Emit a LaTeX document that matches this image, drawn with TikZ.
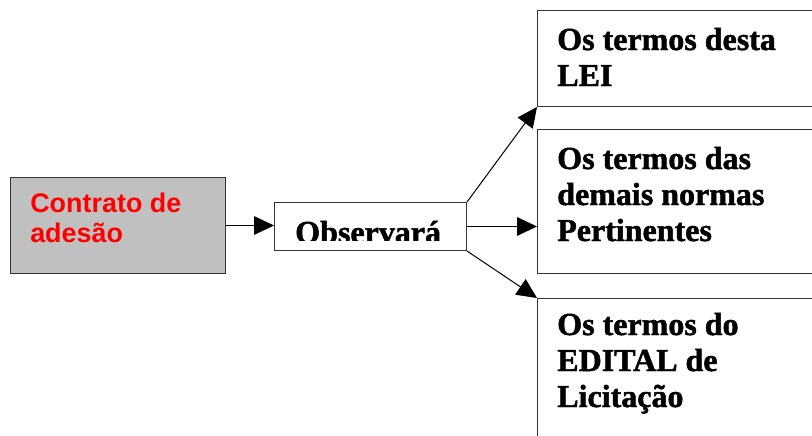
\documentclass[tikz,border=0pt]{standalone}
\usepackage{fontspec}
\setmainfont{Liberation Serif}
\setsansfont{Liberation Sans}
\newfontfamily\termofont[FakeBold=1.5]{Liberation Serif Bold}
\usetikzlibrary{arrows.meta}
\definecolor{boxgray}{RGB}{192,192,192}
\tikzset{
	box/.style={draw=black!80, line width=0.75pt, inner sep=0pt, anchor=north west},
	arr/.style={draw=black, line width=0.75pt, -{Triangle[length=15pt,width=14pt]}},
	termo/.style={anchor=base west, align=left, inner sep=0pt, font=\fontsize{24pt}{27pt}\selectfont\termofont},
	rotulo/.style={anchor=base west, align=left, inner sep=0pt, text=red, font=\fontsize{20.2pt}{22.5pt}\selectfont\sffamily\bfseries}
}

\begin{document}
\begin{tikzpicture}[x=0.75pt, y=-0.75pt]
		%%%%% START %%%%%
		\useasboundingbox (0, 0) rectangle (812, 435);
		\clip (0, 0) rectangle (812, 435);
		
		% left box
		\node[box, fill=boxgray, minimum width=161.25pt, minimum height=72pt] (contrato) at (10, 177) {};
		\node[rotulo] (contratotxt) at (30, 242) {Contrato de\\adesão};
		
		% middle box
		\node[box, fill=white, minimum width=144pt, minimum height=36pt] (observa) at (274, 202) {};
		\begin{scope}
			\clip (275, 203) rectangle (465, 240);
			\node[termo] (observatxt) at (295, 243) {Observará};
		\end{scope}
		
		% right boxes
		\node[box, minimum width=219.75pt, minimum height=72pt] (lei) at (537, 10) {};
		\node[termo] (leitxt) at (557, 86) {Os termos desta\\LEI};
		
		\node[box, minimum width=219.75pt, minimum height=108pt] (normas) at (537, 129) {};
		\node[termo] (normastxt) at (557, 241) {Os termos das\\demais normas\\Pertinentes};
		
		\node[box, minimum width=219.75pt, minimum height=121.5pt] (edital) at (537, 298) {};
		\node[termo] (editaltxt) at (557, 407) {Os termos do\\EDITAL de\\Licitação};
		
		% arrows
		\draw[arr] (contrato.east) -- (contrato.east -| observa.west);
		\draw[arr] (observa.north east) -- (lei.south west);
		\draw[arr] (observa.east) -- (observa.east -| normas.west);
		\draw[arr] (observa.south east) -- (edital.north west);
		
		%%%%% END %%%%%
\end{tikzpicture}
\end{document}
